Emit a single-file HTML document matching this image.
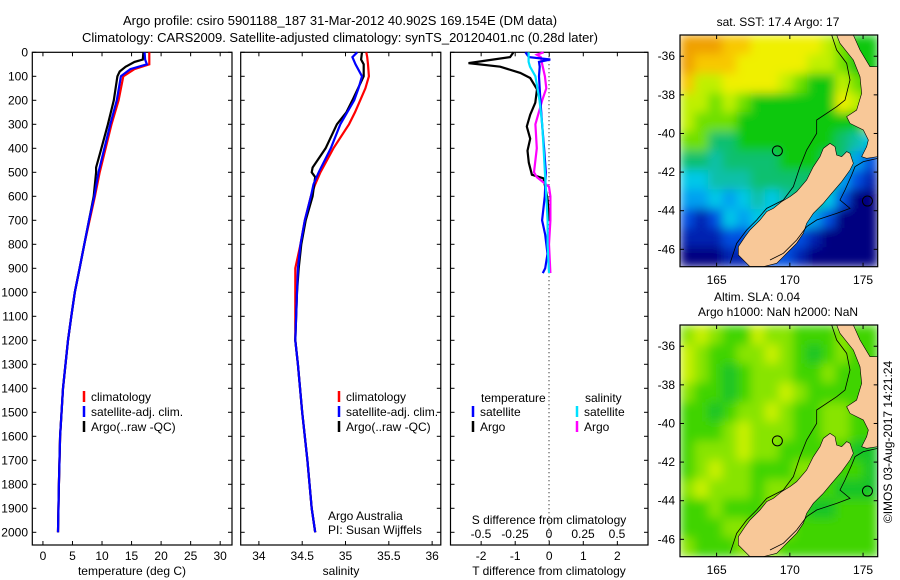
<!DOCTYPE html>
<html><head><meta charset="utf-8"><style>
html,body{margin:0;padding:0;background:#fff;}
svg{display:block;font-family:"Liberation Sans",sans-serif;}
text{font-size:12px;fill:#000;}
</style></head><body>
<svg id="chart" width="900" height="580" viewBox="0 0 900 580" xmlns="http://www.w3.org/2000/svg">
<defs>
<filter id="blur" x="0" y="0" width="1" height="1"><feGaussianBlur stdDeviation="5" edgeMode="duplicate"/></filter>
<clipPath id="clip1"><rect x="680" y="35" width="197.7" height="231.7"/></clipPath>
<clipPath id="clip2"><rect x="680" y="325" width="197.7" height="231.7"/></clipPath>
</defs>
<text x="340" y="25" text-anchor="middle" style="font-size:13px">Argo profile: csiro 5901188_187 31-Mar-2012 40.902S 169.154E (DM data)</text>
<text x="340" y="42" text-anchor="middle" style="font-size:13px">Climatology: CARS2009. Satellite-adjusted climatology: synTS_20120401.nc (0.28d later)</text>
</svg>
<script>
// ---------- data ----------
const depthTicks=[0,100,200,300,400,500,600,700,800,900,1000,1100,1200,1300,1400,1500,1600,1700,1800,1900,2000];
const tempTicks=[0,5,10,15,20,25,30];
const salTicks=[34,34.5,35,35.5,36];
const tdiffTicks=[-2,-1,0,1,2];
const sdiffTicks=[-0.5,-0.25,0,0.25,0.5];
const sdiffTickLabels=["-0.5","-0.25","0","0.25","0.5"];

const tempDepth=[0,30,50,70,100,200,300,400,500,600,700,800,900,1000,1100,1200,1400,1600,1800,2000];
const tempClim=[18.0,18.0,18.0,15.5,13.6,12.8,11.6,10.6,9.6,8.8,7.9,7.0,6.2,5.4,4.8,4.25,3.4,2.9,2.7,2.55];
const tempSat=[17.2,17.3,17.6,14.8,13.2,12.5,11.4,10.4,9.4,8.7,7.8,7.0,6.2,5.4,4.8,4.25,3.4,2.9,2.7,2.55];
const argoTDepth=[0,30,40,60,80,100,200,300,400,480,500,600,700,800,900,1000,1100,1200,1400,1600,1800,2000];
const argoT=[17.0,16.9,15.5,14.0,13.0,12.6,12.0,11.0,9.9,9.0,9.0,8.6,7.8,7.0,6.2,5.4,4.8,4.25,3.4,2.9,2.7,2.55];

const salDepth=[0,20,50,100,150,200,250,300,400,500,550,600,700,800,900,1000,1200,1300,1500,1700,1900,2000];
const salClim=[35.24,35.25,35.26,35.27,35.23,35.17,35.11,35.04,34.86,34.71,34.65,34.60,34.53,34.48,34.42,34.42,34.42,34.45,34.50,34.56,34.61,34.65];
const salSat=[35.135,35.08,35.115,35.19,35.15,35.10,35.02,34.94,34.83,34.69,34.63,34.60,34.53,34.48,34.45,34.44,34.42,34.45,34.50,34.56,34.61,34.65];
const argoSDepth=[0,30,50,100,200,250,300,400,480,500,520,600,700,800,900,1000,1200,1300,1500,1700,1900,2000];
const argoS=[35.19,35.18,35.21,35.21,35.08,35.01,34.90,34.77,34.62,34.61,34.65,34.62,34.54,34.49,34.46,34.44,34.42,34.45,34.50,34.56,34.61,34.65];

const tdSatDepth=[0,20,30,40,60,100,200,300,400,500,600,700,760,840,900,920];
const tdSat=[-0.7,-0.6,0.03,-0.3,-0.28,-0.3,-0.26,-0.21,-0.15,-0.1,-0.13,-0.21,-0.12,-0.05,-0.12,-0.19];
const tdArgoDepth=[0,20,45,60,86,107,154,210,260,309,360,410,460,510,525,610,700];
const tdArgo=[-1.05,-1.15,-2.37,-1.44,-0.85,-0.56,-0.36,-0.41,-0.56,-0.66,-0.56,-0.64,-0.6,-0.51,-0.17,-0.05,0.0];
const sdSatDepth=[0,20,40,60,100,200,300,400,500,600,700,800,920];
const sdSat=[-0.15,-0.15,-0.15,-0.14,-0.10,-0.07,-0.05,-0.04,-0.03,-0.02,-0.01,-0.01,0.0];
const sdArgoDepth=[0,10,20,50,100,150,200,300,400,500,520,560,600,700,800,920];
const sdArgo=[-0.04,-0.09,-0.06,-0.05,-0.03,-0.02,-0.05,-0.10,-0.09,-0.11,-0.09,0.0,0.01,0.01,0.0,0.01];

// ---------- helpers ----------
const NS="http://www.w3.org/2000/svg";
const svg=document.getElementById('chart');
function mk(tag,attrs,parent){const e=document.createElementNS(NS,tag);for(const k in attrs)e.setAttribute(k,attrs[k]);(parent||svg).appendChild(e);return e;}
const TOP=52.3, BOT=545, PXM=0.24;
function yD(d){return TOP+d*PXM;}
const panels=[
 {name:'temperature',x0:32.3,x1:232,min:-1.8,max:32},
 {name:'salinity',x0:240.7,x1:440.8,min:33.79,max:36.1},
 {name:'difference',x0:450.5,x1:648,min:-2.9,max:2.9}
];
function xS(p,v){return p.x0+(v-p.min)/(p.max-p.min)*(p.x1-p.x0);}
function sx(v){return 549+v*136;}

panels.forEach(function(p){
  const r=mk('rect',{x:p.x0,y:TOP,width:p.x1-p.x0,height:BOT-TOP,fill:'none',stroke:'#000','stroke-width':1.2});
  
  
  depthTicks.forEach(function(d){
    const t1=mk('line',{x1:p.x0,x2:p.x0+4,y1:yD(d),y2:yD(d),stroke:'#000'});
    
    
    const t2=mk('line',{x1:p.x1,x2:p.x1-4,y1:yD(d),y2:yD(d),stroke:'#000'});
    
    
  });
});
depthTicks.forEach(function(d){
  const t=mk('text',{x:28,y:yD(d)+4,'text-anchor':'end'});
  t.textContent=d;
  
  
});
function xticks(p,vals,labels,fn,ly){
  vals.forEach(function(v,i){
    const x=fn(v);
    const a=mk('line',{x1:x,x2:x,y1:BOT,y2:BOT-4,stroke:'#000'});
    
    
    const b=mk('line',{x1:x,x2:x,y1:TOP,y2:TOP+4,stroke:'#000'});
    
    
    const t=mk('text',{x:x,y:ly,'text-anchor':'middle'});
    t.textContent=labels[i];
    
    
  });
}
xticks(panels[0],tempTicks,tempTicks,function(v){return xS(panels[0],v);},560);
xticks(panels[1],salTicks,salTicks,function(v){return xS(panels[1],v);},560);
xticks(panels[2],tdiffTicks,tdiffTicks,function(v){return xS(panels[2],v);},560);
sdiffTicks.forEach(function(v,i){
  const t=mk('text',{x:sx(v),y:538,'text-anchor':'middle'});
  t.textContent=sdiffTickLabels[i];
  
  
});
function label(txt,x,y,name,anchor){const t=mk('text',{x:x,y:y,'text-anchor':anchor||'middle'});t.textContent=txt;return t;}
label('temperature (deg C)',132,575,'x-axis-title-temperature');
label('salinity',341,575,'x-axis-title-salinity');
label('T difference from climatology',549,575,'x-axis-title-t-diff');
label('S difference from climatology',549,524,'x-axis-title-s-diff');
label('Argo Australia',328,520,'credit-argo-australia','start');
label('PI: Susan Wijffels',328,534,'credit-pi','start');

const z=mk('line',{x1:549,x2:549,y1:TOP,y2:BOT,stroke:'#000','stroke-dasharray':'1,3'});



function series(depths,vals,fx,color,name){
  let d='';
  for(let i=0;i<vals.length;i++){d+=(i?'L':'M')+fx(vals[i]).toFixed(1)+','+yD(depths[i]).toFixed(1);}
  const p=mk('path',{d:d,fill:'none',stroke:color,'stroke-width':2.2});
  
  
}
const fT=function(v){return xS(panels[0],v);}, fS=function(v){return xS(panels[1],v);}, fD=function(v){return xS(panels[2],v);};
series(tempDepth,tempClim,fT,'#ff0000','temp-climatology-line');
series(argoTDepth,argoT,fT,'#000000','temp-argo-line');
series(tempDepth,tempSat,fT,'#0000ff','temp-satellite-line');
series(salDepth,salClim,fS,'#ff0000','sal-climatology-line');
series(argoSDepth,argoS,fS,'#000000','sal-argo-line');
series(salDepth,salSat,fS,'#0000ff','sal-satellite-line');
series(tdArgoDepth,tdArgo,fD,'#000000','t-diff-argo-line');
series(sdArgoDepth,sdArgo,sx,'#ff00ff','s-diff-argo-line');
series(tdSatDepth,tdSat,fD,'#0000ff','t-diff-satellite-line');
series(sdSatDepth,sdSat,sx,'#00e0ff','s-diff-satellite-line');

function legendEntry(x,y,color,txt,name){
  const b=mk('line',{x1:x,x2:x,y1:y-6,y2:y+5,stroke:color,'stroke-width':2.5});
  
  
  label(txt,x+7,y+4,name,'start');
}
[[84,'climatology-legend'],[339,'climatology-legend-2']].forEach(function(a){
  legendEntry(a[0],397,'#ff0000','climatology',a[1]);
  legendEntry(a[0],412,'#0000ff','satellite-adj. clim.','satellite-legend');
  legendEntry(a[0],427,'#000000','Argo(..raw -QC)','argo-legend');
});
label('temperature',481,402,'legend-temperature-header','start');
label('salinity',585,402,'legend-salinity-header','start');
legendEntry(473,412,'#0000ff','satellite','legend-t-satellite');
legendEntry(473,427,'#000000','Argo','legend-t-argo');
legendEntry(577,412,'#00e0ff','satellite','legend-s-satellite');
legendEntry(577,427,'#ff00ff','Argo','legend-s-argo');

// ---------- maps ----------
const sstPal={O:'#f0a000',o:'#f8c800',Y:'#f0f000',y:'#c0f000',G:'#70e000',g:'#10c810',T:'#10c070',t:'#10c0a8',C:'#00c8e8',c:'#00a0f0',B:'#0050e0',b:'#0020b0',N:'#000080'};
const sstRows=["OOOooYYYYYyGgg","OoooYYYYYyyGgg","oyyYYYYyGggyGg","yyGyGggggggYyg","yGGGgggggggggy","GGTTgggggggTtC","TTtTTTTgggTTcB","CCtttTTTTTgcBb","ccCcCtCtTgCBNN","BbBCcCCCCcBNNN","bbbBBcCBBbNNNN","NNNbbBBBbNNNNN"];
const slaPal={Y:'#c8f000',y:'#88e400',g:'#40d400',d:'#14c428'};
const slaRows=["yYyggYyygggygg","YyggyyYygdgygg","Yygdgyyyggyggg","yggdgyyYyggggg","ggdgyyYyggyygg","gggyYyyyggyygg","gyyyYyygggggdd","gyYyygggyygggd","yYyyygyygggddd","ggygggyygddggg","gggyygyygggggg","ygggyyyggggggg"];
const MX0=680, MX1=877.7, LON0=162.5, LON1=176, LAT0=-34.9, LAT1=-46.9;
function lonX(l){return MX0+(l-LON0)/(LON1-LON0)*(MX1-MX0);}
function latY(top,l){return top+(LAT0-l)/(LAT0-LAT1)*231.7;}
const landN=[[560,105],[610,105],[630,150],[660,200],[683,200],[683,470],[650,475],[635,470],[650,440],[655,420],[640,390],[600,370],[590,350],[620,330],[635,280],[630,230],[610,180],[570,130]];
const landS=[[265,740],[285,710],[300,690],[330,660],[350,635],[370,625],[395,605],[420,590],[440,575],[470,540],[490,500],[510,470],[520,445],[540,430],[555,440],[560,465],[575,470],[590,455],[600,460],[610,490],[600,510],[575,545],[545,580],[520,610],[490,640],[470,670],[460,700],[440,730],[420,750],[400,770],[380,790],[340,800],[300,800],[265,765]];
const contour=[[545,105],[560,150],[590,190],[600,240],[585,300],[560,320],[500,360],[500,400],[470,450],[450,500],[430,560],[400,600],[350,625],[320,660],[290,690],[260,730],[240,790]];
const contour2=[[683,475],[640,485],[615,500],[605,525],[585,570],[570,600],[600,625],[560,640],[500,660],[470,680],[440,720],[400,760],[360,780]];
function zp(pt,top){return [650+pt[0]/3, top+(pt[1]-105)/3];}
function drawMap(top,rows,pal,nameP,clip){
  const outer=mk('g',{'clip-path':'url(#'+clip+')'});
  
  
  const g=mk('g',{filter:'url(#blur)'},outer);
  
  
  const cw=(MX1-MX0)/14, ch=231.7/12;
  rows.forEach(function(r,ri){
    for(let ci=0;ci<14;ci++){
      const c=pal[r[ci]]||pal[Object.keys(pal)[2]];
      const cell=mk('rect',{x:MX0+ci*cw,y:top+ri*ch,width:cw+0.6,height:ch+0.6,fill:c},g);
      
      
    }
  });
  [landN,landS].forEach(function(poly,i){
    const p=mk('polygon',{points:poly.map(function(q){return zp(q,top).join(',');}).join(' '),fill:'#f8c898',stroke:'#000','stroke-width':0.6},outer);
    
    
  });
  [contour,contour2].forEach(function(poly){
    const p=mk('polyline',{points:poly.map(function(q){return zp(q,top).join(',');}).join(' '),fill:'none',stroke:'#000','stroke-width':0.8},outer);
    
    
  });
  [[lonX(169.15),latY(top,-40.9)],[lonX(175.3),latY(top,-43.5)]].forEach(function(c){
    const ci=mk('circle',{cx:c[0],cy:c[1],r:5,fill:'none',stroke:'#000'},outer);
    
    
  });
  const fr=mk('rect',{x:MX0,y:top,width:MX1-MX0,height:231.7,fill:'none',stroke:'#000','stroke-width':1.2});
  
  
  [-36,-38,-40,-42,-44,-46].forEach(function(l){
    const y=latY(top,l);
    label(String(l),675,y+4,'lat-tick-label','end');
    const a=mk('line',{x1:MX0,x2:MX0+4,y1:y,y2:y,stroke:'#000'});
    
    
    const b=mk('line',{x1:MX1,x2:MX1-4,y1:y,y2:y,stroke:'#000'});
    
    
  });
  [165,170,175].forEach(function(l){
    const x=lonX(l);
    label(String(l),x,top+249,'lon-tick-label');
    const a=mk('line',{x1:x,x2:x,y1:top,y2:top+4,stroke:'#000'});
    
    
    const b=mk('line',{x1:x,x2:x,y1:top+231.7,y2:top+227.7,stroke:'#000'});
    
    
  });
}
drawMap(35,sstRows,sstPal,'sst','clip1');
drawMap(325,slaRows,slaPal,'sla','clip2');
label('sat. SST: 17.4 Argo: 17',778,26,'sst-map-title');
label('Altim. SLA: 0.04',757,301,'sla-map-title');
label('Argo h1000: NaN h2000: NaN',778,316,'sla-map-subtitle');
const stamp=label('©IMOS 03-Aug-2017 14:21:24',0,0,'timestamp');
stamp.setAttribute('transform','translate(892,442) rotate(-90)');
</script>
</body></html>
